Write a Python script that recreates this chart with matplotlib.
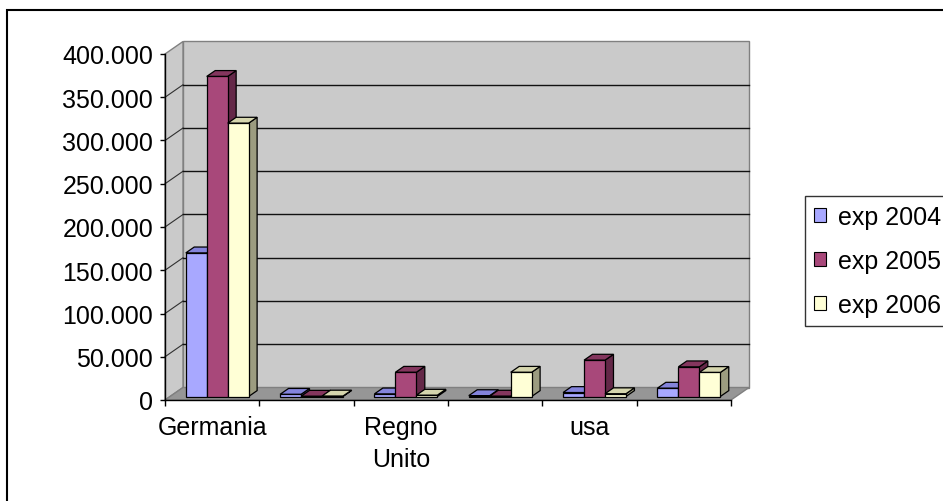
import matplotlib
matplotlib.use('Agg')
import matplotlib.pyplot as plt
from matplotlib.patches import Polygon, Rectangle, Patch

plt.rcParams['font.family'] = ['Liberation Sans', 'DejaVu Sans']

categories = ['Germania', '', 'Regno\nUnito', '', 'usa', '']
series_names = ['exp 2004', 'exp 2005', 'exp 2006']
exp_2004 = [166000, 2500, 3000, 1000, 4600, 9600]
exp_2005 = [370000, 300, 28000, 400, 42000, 34300]
exp_2006 = [316000, 500, 1500, 28000, 3200, 27800]
y_ticks = [0, 50000, 100000, 150000, 200000, 250000, 300000, 350000, 400000]

# front, top, side colours for each series
colors = [
    ('#A8A8FF', '#8484DC', '#6A6AB8'),
    ('#A8487A', '#84365E', '#642848'),
    ('#FFFFD6', '#D6D6AE', '#9C9C80'),
]

W, H = 943, 502
fig = plt.figure(figsize=(W / 100, H / 100), dpi=100)
ax = fig.add_axes([165 / W, (H - 401) / H, 566 / W, 346 / H])
ax.set_xlim(0, len(categories))
ax.set_ylim(0, 400000)
ax.patch.set_visible(False)

# depth of the 3d floor in data units
DX = 18 / (566 / 6)
DY = 12.5 * 400000 / 346
n = len(categories)
ymax = y_ticks[-1]

def poly(pts, fc, ec, lw=1.0, z=1):
    ax.add_patch(Polygon(pts, closed=True, facecolor=fc, edgecolor=ec,
                         linewidth=lw, zorder=z, clip_on=False))

# walls and floor
poly([(DX, DY), (n + DX, DY), (n + DX, ymax + DY), (DX, ymax + DY)], '#CACACA', '#808080')
poly([(0, 0), (0, ymax), (DX, ymax + DY), (DX, DY)], '#CACACA', '#808080')
poly([(0, 0), (n, 0), (n + DX, DY), (DX, DY)], '#969696', '#808080')

for v in y_ticks[1:-1]:
    ax.plot([0, DX], [v, v + DY], color='#303030', lw=0.8, zorder=2, clip_on=False)
    ax.plot([DX, n + DX], [v + DY, v + DY], color='#111111', lw=1.0, zorder=2, clip_on=False)

# bars
bw = 1 / 4.5
gap = 0.75 / 4.5
f = 0.28
b = 0.47
for i in range(n):
    for j, vals in enumerate([exp_2004, exp_2005, exp_2006]):
        v = vals[i]
        fc, tc, sc = colors[j]
        x0 = i + gap + j * bw + f * DX
        y0 = f * DY
        ddx, ddy = b * DX, b * DY
        z = 3 + i * 3 + j
        poly([(x0 + bw, y0), (x0 + bw + ddx, y0 + ddy), (x0 + bw + ddx, y0 + v + ddy), (x0 + bw, y0 + v)],
             sc, 'black', 0.9, z)
        poly([(x0, y0 + v), (x0 + bw, y0 + v), (x0 + bw + ddx, y0 + v + ddy), (x0 + ddx, y0 + v + ddy)],
             tc, 'black', 0.9, z)
        poly([(x0, y0), (x0 + bw, y0), (x0 + bw, y0 + v), (x0, y0 + v)], fc, 'black', 0.9, z)

# axes
for s in ['top', 'right']:
    ax.spines[s].set_visible(False)
ax.spines['left'].set_linewidth(1.0)
ax.spines['bottom'].set_linewidth(1.0)
ax.spines['left'].set_zorder(50)
ax.spines['bottom'].set_zorder(50)

ax.set_yticks(y_ticks)
ax.set_yticklabels([f'{v:,}'.replace(',', '.') for v in y_ticks])
ax.tick_params(axis='y', direction='out', length=3.6, width=1, pad=5, labelsize=18)

ax.set_xticks(range(n + 1))
ax.set_xticklabels([])
ax.set_xticks([i + 0.5 for i in range(n)], minor=True)
ax.set_xticklabels(categories, minor=True, fontsize=18, linespacing=1.4, va='top')
ax.tick_params(axis='x', which='major', direction='out', length=4.3, width=1)
ax.tick_params(axis='x', which='minor', length=0, pad=11)

# legend
handles = [Patch(facecolor=c[0], edgecolor='black', linewidth=0.8) for c in colors]
leg = fig.legend(handles, series_names, loc='upper left',
                 bbox_to_anchor=(805 / W, 1 - 197 / H), borderaxespad=0,
                 fontsize=18, frameon=True, fancybox=False, edgecolor='black',
                 handlelength=0.5, handleheight=0.5, handletextpad=0.45,
                 labelspacing=0.8, borderpad=0.35)
leg.get_frame().set_linewidth(1.0)

# chart border
fig.patches.append(Rectangle((7 / W, -0.1), 1.0, (H - 11) / H + 0.1, transform=fig.transFigure,
                             fill=False, edgecolor='black', linewidth=1.5))

fig.savefig('out.png', dpi=100)
